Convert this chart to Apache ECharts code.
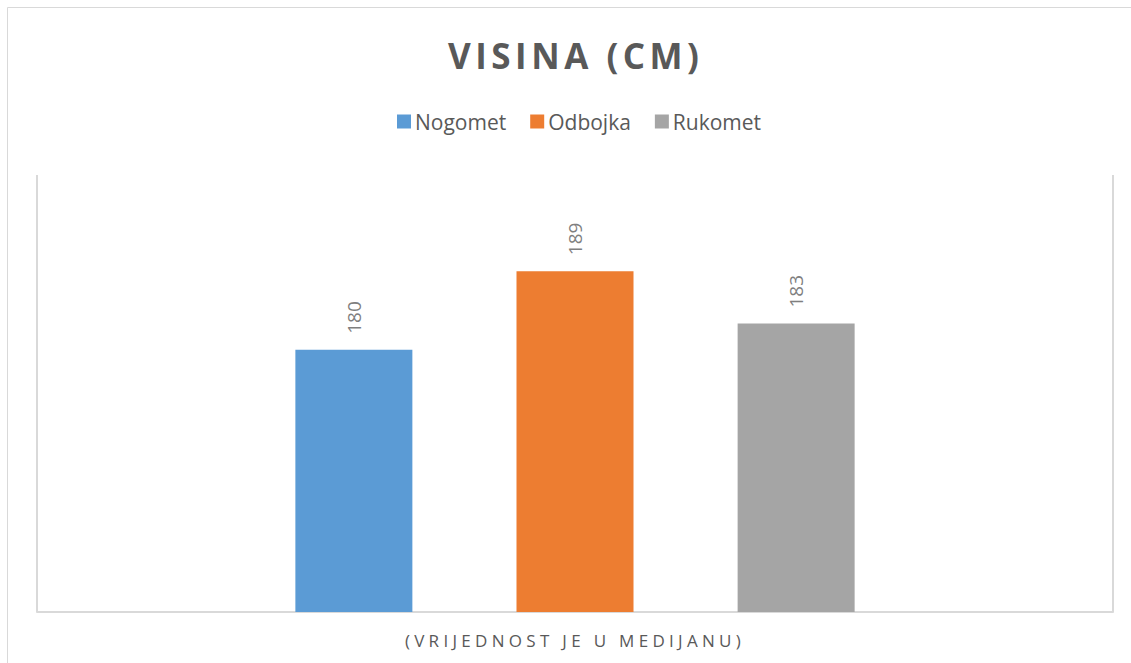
<!DOCTYPE html>
<html>
<head>
<meta charset="utf-8">
<script src="https://cdn.jsdelivr.net/npm/echarts@6/dist/echarts.min.js"></script>
<style>
html,body{margin:0;padding:0;background:#fff;}
#c{width:1131px;height:663px;}
</style>
</head>
<body>
<div id="c"></div>
<script>
const titleText = 'VISINA (CM)';
const axisTitle = '(VRIJEDNOST JE U MEDIJANU)';
const categories = [''];
const seriesNames = ['Nogomet', 'Odbojka', 'Rukomet'];
const seriesValues = [[180], [189], [183]];
const colors = ['#5B9BD5', '#ED7D31', '#A5A5A5'];
const yMin = 150, yMax = 200;

const chart = echarts.init(document.getElementById('c'), null, {renderer: 'svg'});
const option = {
  animation: false,
  backgroundColor: '#fff',
  title: {
    text: titleText,
    left: 443,
    top: 33,
    padding: 5,
    textStyle: {fontFamily: 'Open Sans', fontWeight: 'bold', fontSize: 35, color: '#595959'}
  },
  legend: {
    top: 106,
    left: 392,
    itemWidth: 14,
    itemHeight: 14,
    itemGap: 24,
    icon: 'rect',
    textStyle: {fontFamily: 'Open Sans', fontSize: 21, color: '#595959', padding: [0, 0, 0, -1]},
    data: seriesNames
  },
  graphic: [{
    type: 'rect', silent: true,
    shape: {x: 7.5, y: 7.5, width: 1130, height: 700},
    style: {fill: 'none', stroke: '#D9D9D9', lineWidth: 1}
  }],
  grid: {left: 37, right: 18, top: 175, bottom: 51},
  xAxis: {
    type: 'category',
    data: categories,
    axisLine: {show: true, lineStyle: {color: '#D9D9D9', width: 2}},
    axisTick: {show: false},
    axisLabel: {show: false},
    splitLine: {show: true, lineStyle: {color: '#D9D9D9', width: 2}},
    name: axisTitle,
    nameLocation: 'middle',
    nameGap: 20,
    nameTextStyle: {fontFamily: 'Open Sans', fontSize: 17, color: '#595959'}
  },
  yAxis: {
    type: 'value', min: yMin, max: yMax,
    show: false,
    splitLine: {show: false}
  },
  series: seriesNames.map((n, i) => ({
    name: n,
    type: 'bar',
    data: seriesValues[i],
    barWidth: 117,
    barGap: '89%',
    itemStyle: {color: colors[i]},
    label: {
      show: true, position: 'top', rotate: 90, align: 'left', verticalAlign: 'middle',
      distance: 16, fontFamily: 'Open Sans', fontSize: 19, color: '#7F7F7F'
    }
  }))
};
chart.setOption(option);
function spacing(){
  document.querySelectorAll('#c svg text').forEach(t => {
    if (t.textContent === titleText) t.setAttribute('letter-spacing', '4.5');
    if (t.textContent === axisTitle) t.setAttribute('letter-spacing', '4.3');
  });
}
spacing();
chart.on('finished', spacing);
</script>
</body>
</html>
